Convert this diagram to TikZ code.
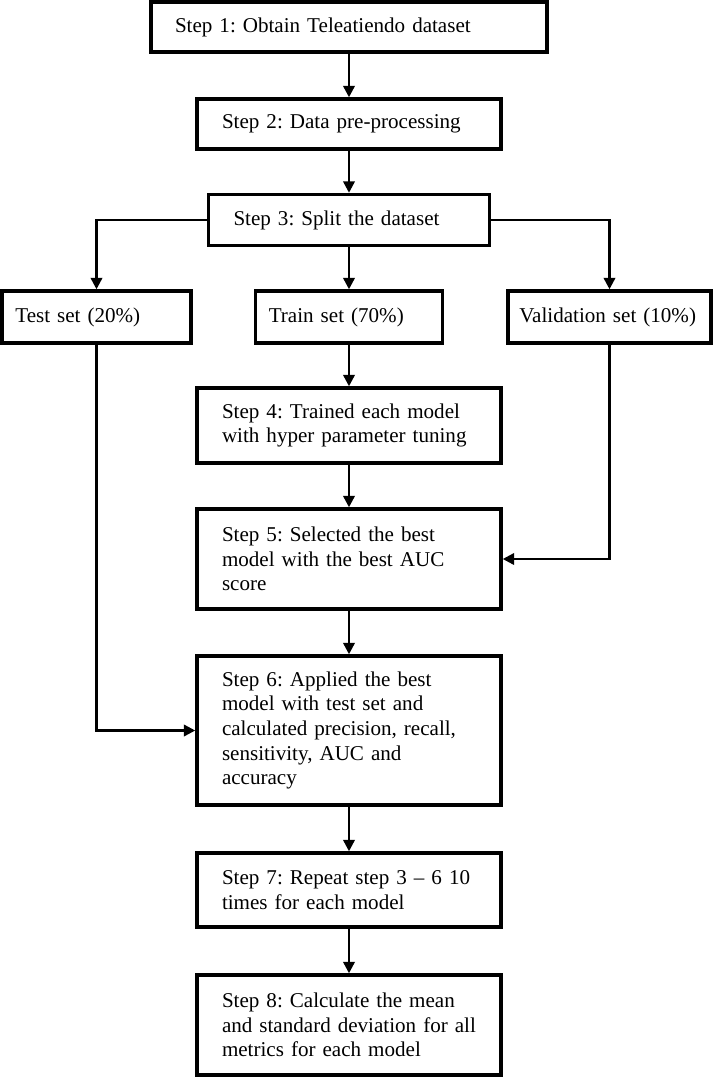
\documentclass[tikz,border=0pt]{standalone}
\usepackage{fontspec}
\setmainfont{Liberation Serif}
\usetikzlibrary{arrows.meta}

\begin{document}
\begin{tikzpicture}[x=0.75pt,y=-0.75pt,
  box/.style={draw,line width=2.6pt,align=left,inner ysep=0pt,
    font=\fontsize{15.8pt}{18.45pt}\selectfont\frenchspacing},
  stepbox/.style={box,inner xsep=18.75pt,text width=190.5pt,minimum height=#1},
  setbox/.style={box,inner xsep=10pt,minimum height=39pt},
  link/.style={line width=1.8pt,-{Triangle[length=8.5pt,width=8.5pt]}}]
\useasboundingbox (0,0) rectangle (714,1078);
% main column
\node[box,inner xsep=18pt,text width=261pt,minimum height=37.5pt] (s1) at (349,27) {Step 1: Obtain Teleatiendo dataset};
\node[stepbox=37.5pt] (s2) at (349,124) {Step 2: Data pre-processing};
\node[box,inner xsep=18.75pt,text width=173.25pt,minimum height=38.25pt] (s3) at (349,220) {Step 3: Split the dataset};
% the three sets
\node[setbox,text width=121.75pt] (test) at (96.5,317) {Test set (20\%)};
\node[setbox,text width=120.25pt] (train) at (349,317) {Train set (70\%)};
\node[setbox,inner xsep=8.5pt,text width=135.25pt] (val) at (609.5,317) {Validation set (10\%)};
\node[stepbox=56.25pt] (s4) at (349,425.5) {Step 4: Trained each model\\with hyper parameter tuning};
\node[stepbox=75pt] (s5) at (349,559) {Step 5: Selected the best\\model with the best AUC\\score};
\node[stepbox=111.75pt] (s6) at (349,730.5) {Step 6: Applied the best\\model with test set and\\calculated precision, recall,\\sensitivity, AUC and\\accuracy};
\node[stepbox=55.5pt] (s7) at (349,890) {Step 7: Repeat step 3 -- 6 10\\times for each model};
\node[stepbox=75pt] (s8) at (349,1025) {Step 8: Calculate the mean\\and standard deviation for all\\metrics for each model};
% connectors
\foreach \a/\b in {s1/s2,s2/s3,s3/train,train/s4,s4/s5,s5/s6,s6/s7,s7/s8}
  \draw[link] (\a) -- (\b);
\draw[link] (s3.west) -| (test);
\draw[link] (s3.east) -| (val);
\draw[link] (val) |- (s5);
\draw[link] (test) |- (s6);
\end{tikzpicture}
\end{document}
